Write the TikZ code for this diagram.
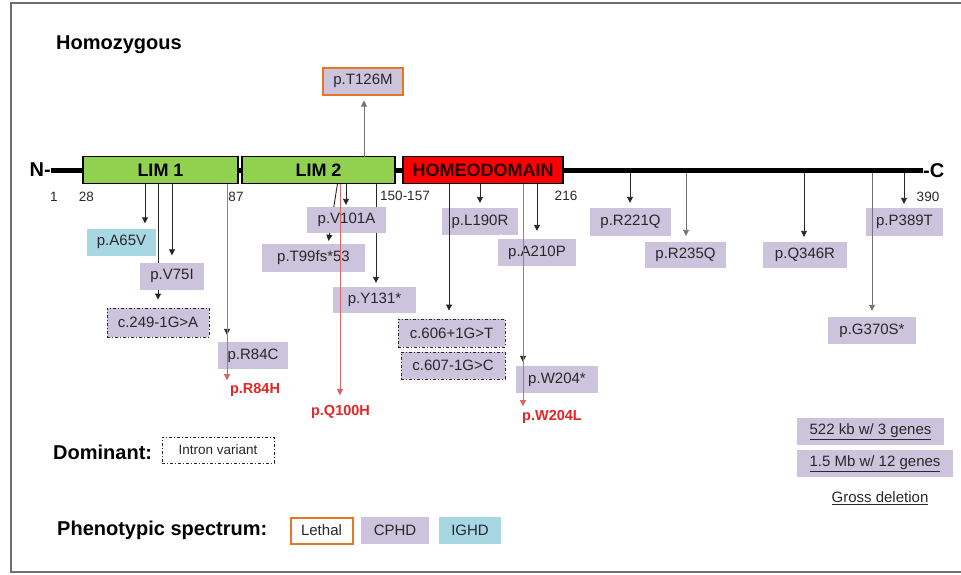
\documentclass[tikz,border=0pt]{standalone}
\usepackage{fontspec}
\setmainfont{Liberation Sans}
\usetikzlibrary{arrows.meta}
\definecolor{lav}{RGB}{204,195,221}
\definecolor{lblue}{RGB}{168,215,228}
\definecolor{lgreen}{RGB}{146,208,80}
\definecolor{orng}{RGB}{228,118,38}
\definecolor{mred}{RGB}{232,36,36}
\definecolor{lred}{RGB}{222,100,100}
\definecolor{txt}{RGB}{40,40,40}
\definecolor{framec}{RGB}{110,110,110}
\newcommand{\fsz}[1]{\fontsize{#1}{#1}\selectfont}
\begin{document}
\begin{tikzpicture}[x=1pt,y=-1pt,
  mut/.style={fill=lav, draw=none, inner sep=0pt, minimum height=27pt, font=\fsz{15}, text=txt},
  blue/.style={mut, fill=lblue},
  intron/.style={mut, draw=txt, line width=0.9pt, dash pattern=on 3pt off 2pt on 1pt off 2pt},
  lethal/.style={mut, draw=orng, line width=2pt},
  dom/.style={draw=black, line width=1.4pt, inner sep=0pt, minimum height=27pt, font=\bfseries\fsz{18}},
  redlab/.style={font=\bfseries\fsz{14.5}, text=mred, inner sep=0pt},
  numlab/.style={font=\fsz{13.5}, text=txt, inner sep=0pt},
  title/.style={font=\bfseries\fsz{20}, inner sep=0pt, anchor=west},
  arr/.style={draw=black!85, line width=0.9pt, -{Triangle[width=6pt,length=6pt]}},
  garr/.style={arr, draw=black!55},
  rarr/.style={draw=lred, line width=0.9pt, -{Triangle[width=6pt,length=6pt]}},
]
\useasboundingbox (0,0) rectangle (961,574);
\draw[framec, line width=1.6pt] (961,3) -- (11,3) -- (11,572) -- (961,572);

% titles
\node[title] (homo) at (56,45) {Homozygous};
\node[title] (dom) at (53,452) {Dominant:};
\node[title] (pheno) at (57,530) {Phenotypic spectrum:};

% backbone
\node[font=\bfseries\fsz{20}, inner sep=0pt, anchor=east] (Nlab) at (51,170) {N-};
\node[font=\bfseries\fsz{20}, inner sep=0pt, anchor=west] (Clab) at (923,171) {-C};
\draw[line width=5pt] (Nlab.east |- 0,170) coordinate (barL) -- (Clab.west |- 0,170) coordinate (barR);

\node[dom, fill=lgreen, minimum width=155pt] (LIM1) at (160.5,170) {LIM 1};
\node[dom, fill=lgreen, minimum width=153pt] (LIM2) at (318.5,170) {LIM 2};
\node[dom, fill=red, minimum width=160pt, text=black!85!red] (HD) at (483,170) {HOMEODOMAIN};

% position labels
\node[numlab] (n1) at (54,197) {1};
\node[numlab] (n28) at (86.5,197) {28};
\node[numlab] (n87) at (236,197) {87};
\node[numlab] (n150) at (405,196) {150-157};
\node[numlab] (n216) at (566,196) {216};
\node[numlab] (n390) at (928,197) {390};

% arrow start coordinates
\coordinate (sA65V) at (145,183.5);
\coordinate (sV75I) at (172,183.5);
\coordinate (sC249) at (158,183.5);
\coordinate (sR84) at (227,183.5);
\coordinate (sT126) at (364,156.5);
\coordinate (sV101) at (346,183.5);
\coordinate (sT99) at (337.5,183.5);
\coordinate (sQ100) at (340,183.5);
\coordinate (sY131) at (376,183.5);
\coordinate (sC606) at (449,183.5);
\coordinate (sL190) at (480,183.5);
\coordinate (sA210) at (537,183.5);
\coordinate (sW204) at (523,183.5);
\coordinate (sR221) at (630,172.5);
\coordinate (sR235) at (686,172.5);
\coordinate (sQ346) at (804,172.5);
\coordinate (sG370) at (872,172.5);
\coordinate (sP389) at (904,172.5);

% boxes
\path
  node[blue, minimum width=69pt] (A65V) at (121.5,242) {p.A65V}
  node[intron, minimum width=102pt, minimum height=29pt] (C249) at (158,322.5) {c.249-1G>A}
  node[mut, minimum width=70pt] (R84C) at (253,355.5) {p.R84C}
  node[lethal, minimum width=80pt, minimum height=27pt] (T126M) at (363,81) {p.T126M}
  node[mut, minimum width=103pt, minimum height=28pt] (T99) at (313.5,258) {p.T99fs*53}
  node[mut, minimum width=83pt, minimum height=26pt] (Y131) at (374.5,300) {p.Y131*}
  node[intron, minimum width=107pt, minimum height=28pt] (C606) at (451.5,333) {c.606+1G>T}
  node[intron, minimum width=104pt, minimum height=27pt] (C607) at (453,365.5) {c.607-1G>C}
  node[mut, minimum width=76pt] (L190R) at (480,221.5) {p.L190R}
  node[mut, minimum width=78pt] (A210P) at (537,252.5) {p.A210P}
  node[mut, minimum width=82pt] (W204) at (557,379.5) {p.W204*}
  node[mut, minimum width=81pt, minimum height=28pt] (R221Q) at (630.5,222) {p.R221Q}
  node[mut, minimum width=81pt, minimum height=26pt] (R235Q) at (685.5,255) {p.R235Q}
  node[mut, minimum width=84pt, minimum height=26pt] (Q346R) at (805,255) {p.Q346R}
  node[mut, minimum width=88pt] (G370S) at (872,330.5) {p.G370S*}
  node[mut, minimum width=77pt, minimum height=28pt] (P389T) at (904.5,222) {p.P389T};

% lines hidden behind boxes
\draw[arr, shorten >=8pt] (sC249) -- (sC249 |- C249.north);
\draw[arr, shorten >=3pt] (sT99) -- (T99.north -| 328,0);
\draw[arr, shorten >=4pt] (sY131) -- (sY131 |- Y131.north);

\node[mut, minimum width=64pt] (V75I) at (172,276) {p.V75I};
\node[mut, minimum width=79pt, minimum height=26pt] (V101A) at (346.5,220) {p.V101A};

% lines
\draw[arr, shorten >=5pt] (sA65V) -- (sA65V |- A65V.north);
\draw[arr, shorten >=7pt] (sV75I) -- (sV75I |- V75I.north);
\draw[arr, shorten >=7pt] (sR84) -- (sR84 |- R84C.north);
\draw[garr, shorten >=5pt] (sT126) -- (sT126 |- T126M.south);
\draw[arr, shorten >=2pt] (sV101) -- (sV101 |- V101A.north);
\draw[arr, shorten >=8pt] (sC606) -- (sC606 |- C606.north);
\draw[arr, shorten >=5pt] (sL190) -- (sL190 |- L190R.north);
\draw[arr, shorten >=8pt] (sA210) -- (sA210 |- A210P.north);
\draw[arr, shorten >=4pt] (sW204) -- (sW204 |- W204.north);
\draw[arr, shorten >=5pt] (sR221) -- (sR221 |- R221Q.north);
\draw[garr, shorten >=6pt] (sR235) -- (sR235 |- R235Q.north);
\draw[arr, shorten >=5pt] (sQ346) -- (sQ346 |- Q346R.north);
\draw[garr, shorten >=6pt] (sG370) -- (sG370 |- G370S.north);
\draw[arr, shorten >=4pt] (sP389) -- (sP389 |- P389T.north);

% red variants
\node[redlab] (R84H) at (255,390) {p.R84H};
\node[redlab] (Q100H) at (340.5,412) {p.Q100H};
\node[redlab] (W204L) at (552,417) {p.W204L};
\draw[rarr, shorten >=3pt] (sR84) -- (sR84 |- R84H.north);
\draw[rarr, shorten >=10pt] (sQ100) -- (sQ100 |- Q100H.north);
\draw[rarr, shorten >=4pt] (sW204) -- (sW204 |- W204L.north);

% legend
\node[intron, fill=white, minimum width=112pt, minimum height=26pt, font=\fsz{13.5}] (intronleg) at (218,450) {Intron variant};
\node[lethal, fill=white, minimum width=62pt, minimum height=26pt] (leth) at (321.5,530.5) {Lethal};
\node[mut, minimum width=68pt] (cphd) at (395,530.5) {CPHD};
\node[blue, minimum width=62pt] (ighd) at (470,530.5) {IGHD};

% gross deletion
\node[mut, minimum width=147pt] (del1) at (870.5,431.5) {\underline{522 kb w/ 3 genes}};
\node[mut, minimum width=156pt] (del2) at (875,463.5) {\underline{1.5 Mb w/ 12 genes}};
\node[font=\fsz{15}, text=txt, inner sep=0pt] (gross) at (880,498) {\underline{Gross deletion}};
\end{tikzpicture}
\end{document}
